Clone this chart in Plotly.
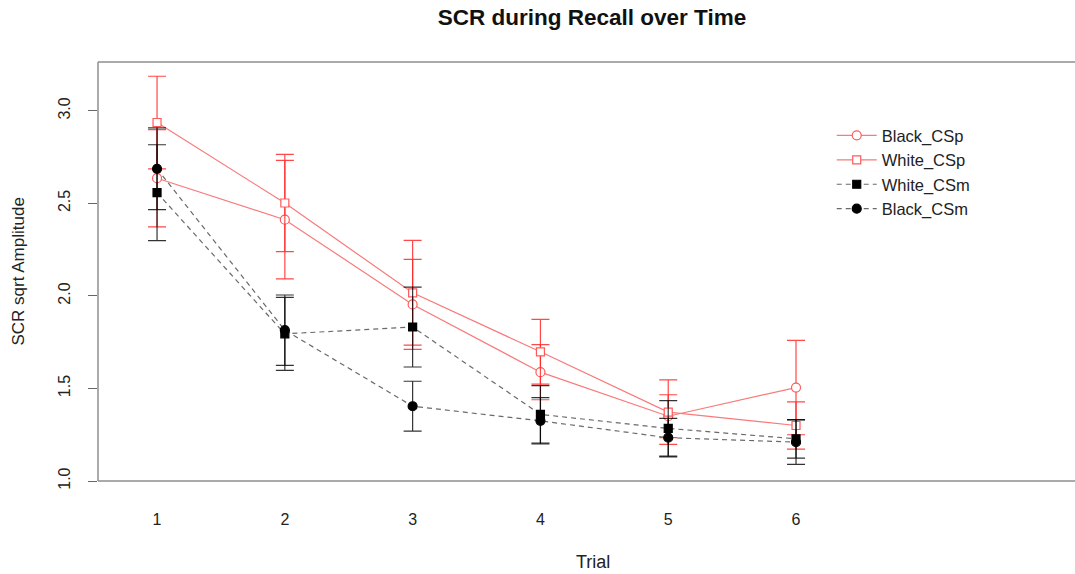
import plotly.graph_objects as go

trials = [1, 2, 3, 4, 5, 6]
tick_vals_y = [1.0, 1.5, 2.0, 2.5, 3.0]
tick_text_y = ["1.0", "1.5", "2.0", "2.5", "3.0"]
tick_text_x = ["1", "2", "3", "4", "5", "6"]

black_csp = [2.636, 2.412, 1.954, 1.588, 1.350, 1.505]
black_csp_err = [0.263, 0.320, 0.243, 0.149, 0.116, 0.255]
white_csp = [2.937, 2.502, 2.017, 1.698, 1.372, 1.300]
white_csp_err = [0.250, 0.263, 0.283, 0.175, 0.174, 0.128]
white_csm = [2.558, 1.795, 1.832, 1.360, 1.284, 1.228]
white_csm_err = [0.259, 0.197, 0.216, 0.155, 0.150, 0.104]
black_csm = [2.687, 1.815, 1.404, 1.325, 1.234, 1.210]
black_csm_err = [0.221, 0.190, 0.135, 0.125, 0.104, 0.120]

RED_LINE = "#F87A7A"
RED_ERR = "rgba(255,40,40,0.85)"
RED_MK = "#FF5A5A"
GREY_LINE = "#6a6a6a"
BLK_ERR = "rgba(0,0,0,0.8)"

fig = go.Figure()

def add(name, y, err, symbol, line, mk_fill, mk_line, errc, dash):
    fig.add_trace(go.Scatter(
        x=trials, y=y, name=name, mode="lines+markers",
        line=dict(color=line, width=1.2, dash=dash),
        marker=dict(symbol=symbol, size=9 if "circle" in symbol else 8,
                    color=mk_fill, line=dict(color=mk_line, width=1.2)),
        error_y=dict(type="data", array=err, visible=True, color=errc,
                     thickness=1.2, width=9),
    ))

add("Black_CSp", black_csp, black_csp_err, "circle", RED_LINE, "white", RED_MK, RED_ERR, "solid")
add("White_CSp", white_csp, white_csp_err, "square", RED_LINE, "white", RED_MK, RED_ERR, "solid")
add("White_CSm", white_csm, white_csm_err, "square", GREY_LINE, "black", "black", BLK_ERR, "5px,4px")
add("Black_CSm", black_csm, black_csm_err, "circle", GREY_LINE, "black", "black", BLK_ERR, "5px,4px")

W, H = 1075, 574
L, T, B = 98, 62, 93

box = dict(color="#8e8e8e", width=1.5)
shapes = [
    dict(type="line", xref="paper", yref="paper", x0=0, x1=1.05, y0=1, y1=1, line=box, layer="below"),
    dict(type="line", xref="paper", yref="paper", x0=0, x1=1.05, y0=0, y1=0, line=box, layer="below"),
    dict(type="line", xref="paper", yref="paper", x0=0, x1=0, y0=0, y1=1, line=box, layer="below"),
]

font = "Liberation Sans, Arial, sans-serif"

fig.update_layout(
    width=W, height=H,
    margin=dict(l=L, r=0, t=T, b=B, autoexpand=False),
    plot_bgcolor="white", paper_bgcolor="white",
    font=dict(family=font, size=16, color="#222222"),
    title=dict(text="<b>SCR during Recall over Time</b>", xref="container", yref="container",
               x=592 / W, xanchor="center", y=1 - 17 / H, yanchor="middle",
               font=dict(size=22.5, color="#111111")),
    xaxis=dict(range=[0.538, 8.183], tickvals=trials, ticktext=tick_text_x,
               showgrid=False, zeroline=False, showline=False, ticks="",
               ticklabelstandoff=27, tickfont=dict(size=16)),
    yaxis=dict(range=[1.0, 3.264], tickvals=tick_vals_y, ticktext=tick_text_y,
               showgrid=False, zeroline=False, showline=False, ticks="outside",
               ticklen=9, tickcolor="#666666", tickangle=-90, tickfont=dict(size=16),
               ticklabelstandoff=12),
    shapes=shapes,
    showlegend=True,
    legend=dict(x=0.751, y=0.866, xanchor="left", yanchor="top", bgcolor="rgba(0,0,0,0)",
                font=dict(size=16.5), tracegroupgap=0, itemwidth=40),
    annotations=[
        dict(text="Trial", xref="paper", yref="paper", x=(593 - L) / (W - L), y=-(562 - 481) / (481 - T),
             xanchor="center", yanchor="middle", showarrow=False, font=dict(size=18)),
        dict(text="SCR sqrt Amplitude", xref="paper", yref="paper", x=-(L - 18) / (W - L), y=0.5,
             xanchor="center", yanchor="middle", textangle=-90, showarrow=False, font=dict(size=17)),
    ],
)

fig.write_html("out.html", config={"displayModeBar": False})
with open("out.html", "r", encoding="utf-8") as f:
    html = f.read()
html = html.replace("<head>", "<head><style>html,body{margin:0;padding:0;overflow:hidden}</style>", 1)
with open("out.html", "w", encoding="utf-8") as f:
    f.write(html)
